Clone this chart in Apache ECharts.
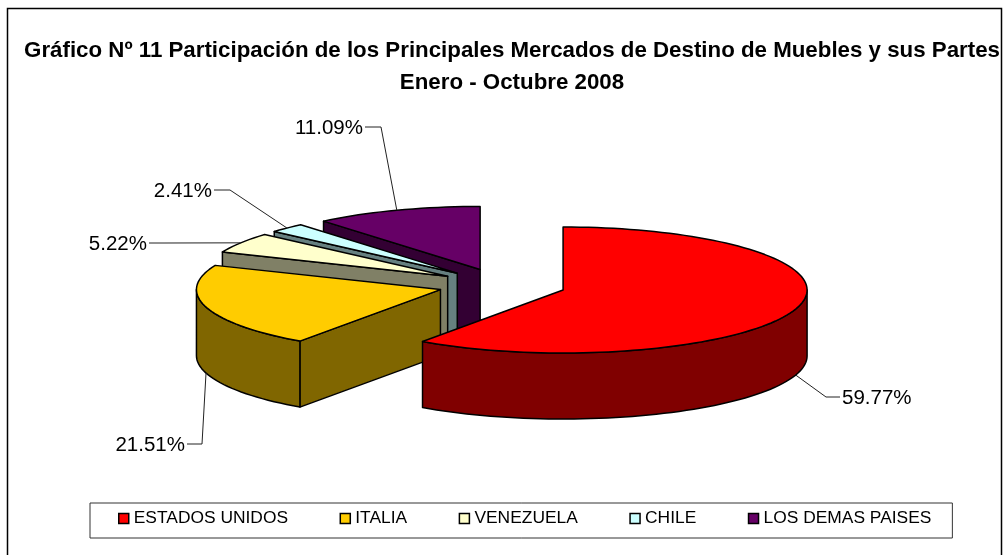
<!DOCTYPE html>
<html>
<head>
<meta charset="utf-8">
<style>
    html, body { margin: 0; padding: 0; background: #fff; }
    #chart { width: 1004px; height: 555px; }
</style>
<script src="https://cdn.jsdelivr.net/npm/echarts@6/dist/echarts.min.js"></script>
</head>
<body>
<div id="chart"></div>
<script>
    const titleLines = ['Gráfico Nº 11 Participación de los Principales Mercados de Destino de Muebles y sus Partes', 'Enero - Octubre 2008'];
    const categories = ['ESTADOS UNIDOS', 'ITALIA', 'VENEZUELA', 'CHILE', 'LOS DEMAS PAISES'];
    const shares = [59.77, 21.51, 5.22, 2.41, 11.09];
    const topColors = ['#ff0000', '#ffcc00', '#ffffcc', '#ccffff', '#660066'];
    const sideColors = ['#800000', '#806600', '#808066', '#668080', '#330033'];

    // pie projection
    const center = [502, 285], rx = 244, ry = 63, depth = 66, explode = 0.2626;
    // label text end and elbow x, per slice
    const labelSpots = [[842, 397, 826], [185, 444, 202], [147, 243, 165], [212, 190, 230], [363, 127, 381]];

    const total = shares.reduce((a, b) => a + b, 0);
    const startOf = i => shares.slice(0, i).reduce((a, b) => a + b, 0) / total * 360;
    const rad = d => d * Math.PI / 180;

    function arc(o, from, to, dy) {
        const pts = [], n = Math.max(2, Math.ceil((to - from) / 2));
        for (let k = 0; k <= n; k++) {
            const a = rad(from + (to - from) * k / n);
            pts.push([o[0] + rx * Math.sin(a), o[1] - ry * Math.cos(a) + dy]);
        }
        return pts;
    }

    function sliceItem(i, value) {
        const from = startOf(i), to = from + value / total * 360, mid = rad((from + to) / 2);
        const o = [center[0] + explode * rx * Math.sin(mid), center[1] - explode * ry * Math.cos(mid)];
        const line = { stroke: '#000', lineWidth: 1.5, lineJoin: 'round' };
        const side = Object.assign({ fill: sideColors[i] }, line);
        const poly = (points, style) => ({ type: 'polygon', shape: { points }, style });
        const down = p => [p[0], p[1] + depth];
        const kids = [];

        // cut faces, only the ones turned to the viewer
        [[from, from - 90], [to, to + 90]].forEach(f => {
            if (Math.cos(rad(f[1])) > -1e-6) return;
            const e = arc(o, f[0], f[0], 0)[0];
            kids.push(poly([o, e, down(e), down(o)], side));
        });
        // outer wall, front half only
        const wallFrom = Math.max(from, 90), wallTo = Math.min(to, 270);
        if (wallTo > wallFrom) {
            const rim = arc(o, wallFrom, wallTo, 0);
            kids.push(poly(rim.concat(rim.map(down).reverse()), side));
        }
        // top
        kids.push(poly([o].concat(arc(o, from, to, 0)), Object.assign({ fill: topColors[i] }, line)));

        // leader + label
        const rimPt = arc(o, (from + to) / 2, (from + to) / 2, Math.cos(mid) < 0 ? depth : 0)[0];
        const s = labelSpots[i], leftSide = s[2] > s[0];
        kids.push({ type: 'polyline', shape: { points: [[s[0] + (leftSide ? 2 : -2), s[1]], [s[2], s[1]], rimPt] },
            style: { stroke: '#222', lineWidth: 1, fill: null } });
        kids.push({ type: 'text', style: { text: value.toFixed(2) + '%', x: s[0], y: s[1] + 1,
            align: leftSide ? 'right' : 'left', verticalAlign: 'middle',
            font: '20.5px "Liberation Sans", Arial, sans-serif', fill: '#000' } });
        return { type: 'group', children: kids };
    }

    const chart = echarts.init(document.getElementById('chart'));
    chart.setOption({
        animation: false,
        backgroundColor: '#fff',
        title: {
            text: titleLines.join('\n'),
            left: 507, top: 30, textAlign: 'center',
            textStyle: { fontFamily: '"Liberation Sans", Arial, sans-serif', fontWeight: 'bold', fontSize: 22.3, lineHeight: 32, color: '#000' }
        },
        legend: {
            data: categories,
            left: 90, top: 503,
            orient: 'horizontal',
            icon: 'rect',
            itemWidth: 10, itemHeight: 10, itemGap: 51.5,
            padding: [7, 21, 11, 28],
            borderColor: '#333', borderWidth: 1, backgroundColor: '#fff',
            selectedMode: false,
            itemStyle: { borderColor: '#000', borderWidth: 1.5 },
            textStyle: { fontFamily: '"Liberation Sans", Arial, sans-serif', fontSize: 17.4, color: '#000' }
        },
        graphic: [{
            // frame runs off the bottom of the picture
            type: 'polyline', silent: true, z: -1,
            shape: { points: [[7.5, 560], [7.5, 8.5], [1001.5, 8.5], [1001.5, 560]] },
            style: { fill: null, stroke: '#000', lineWidth: 1.5 }
        }],
        series: categories.map((name, i) => {
            const mid = rad(startOf(i) + shares[i] / total * 180);
            return {
                type: 'custom',
                name,
                coordinateSystem: 'none',
                silent: true,
                z: 10 - Math.cos(mid) * 5,
                itemStyle: { color: topColors[i] },
                data: [[shares[i]]],
                renderItem: (params, api) => sliceItem(i, api.value(0))
            };
        })
    });
</script>
</body>
</html>
